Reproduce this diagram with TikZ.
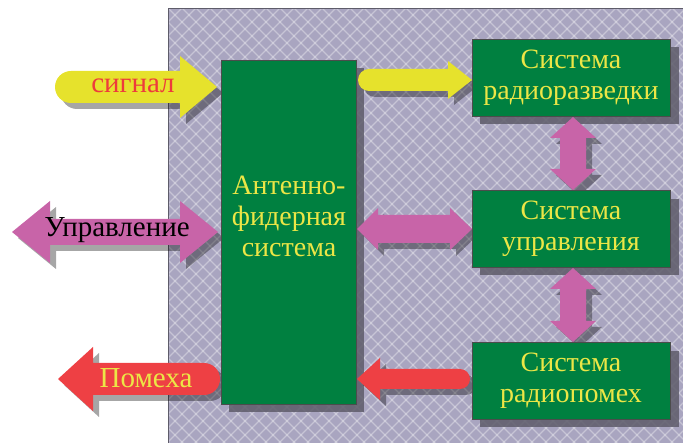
\documentclass[tikz,border=0pt]{standalone}
\usepackage{fontspec}
\setmainfont{Liberation Serif}
\newfontfamily\tnr{Liberation Serif}
\usetikzlibrary{calc}
\definecolor{bgpat}{HTML}{A9A5C0}
\definecolor{boxgreen}{HTML}{008040}
\definecolor{ayellow}{HTML}{E6E22C}
\definecolor{apink}{HTML}{C864A8}
\definecolor{ared}{HTML}{EE4044}
\definecolor{tyellow}{HTML}{ECE646}
\definecolor{tred}{HTML}{EE3B3B}
\definecolor{shadowc}{HTML}{5E5C6A}
\tikzset{
  boxtext/.style={text=tyellow, align=center, font=\tnr\fontsize{28}{31}\selectfont, inner sep=0pt},
  sysbox/.style={boxtext, draw=black!70, line width=0.8pt, fill=boxgreen,
     minimum width=198pt, minimum height=77pt},
  boxshadow/.style={fill=shadowc, opacity=0.85},
  arrshadow/.style={fill=black, opacity=0.35},
  lbl/.style={font=\tnr\fontsize{29}{31}\selectfont, inner sep=0pt}
}
\begin{document}
\begin{tikzpicture}[x=1pt,y=-1pt]
\useasboundingbox (0,0) rectangle (683,443);
% patterned background
\fill[bgpat] (168,8) rectangle (684,444);
\begin{scope}
\clip (168,8) rectangle (684,444);
\foreach \k in {0,...,80}{
  \draw[white,opacity=0.35,line width=1.4pt] ({168+\k*14},8) -- ({168+\k*14-440},448);
  \draw[white,opacity=0.35,line width=1.4pt] ({168+\k*14-560},8) -- ({168+\k*14-120},448);
}
\end{scope}
\draw[shadowc,line width=0.8pt] (168,444) -- (168,8) -- (684,8);

% shadows of boxes
\fill[boxshadow] (229,68) rectangle (364,412);
\fill[boxshadow] (480,47) rectangle (679,124);
\fill[boxshadow] (480,199) rectangle (679,275);
\fill[boxshadow] (480,351) rectangle (679,427);

% arrow shadows
\begin{scope}[shift={(6,6)}]
\fill[arrshadow] (71,71) -- (180,71) -- (180,56) -- (217,87) -- (180,118) -- (180,103) -- (71,103) arc[start angle=90,end angle=270,radius=16] -- cycle;
\fill[arrshadow] (369,69) -- (448,69) -- (448,61) -- (472,80) -- (448,99) -- (448,91) -- (369,91) arc[start angle=90,end angle=270,radius=11] -- cycle;
\fill[arrshadow] (12,232) -- (50,201) -- (50,219) -- (180,219) -- (180,201) -- (218,232) -- (180,263) -- (180,245) -- (50,245) -- (50,263) -- cycle;
\fill[arrshadow] (357,229) -- (378,208) -- (378,215) -- (450,215) -- (450,208) -- (472,229) -- (450,250) -- (450,243) -- (378,243) -- (378,250) -- cycle;
\fill[arrshadow] (573,117) -- (596,138) -- (586,138) -- (586,169) -- (596,169) -- (573,190) -- (550,169) -- (560,169) -- (560,138) -- (550,138) -- cycle;
\fill[arrshadow] (573,268) -- (596,289) -- (586,289) -- (586,321) -- (596,321) -- (573,342) -- (550,321) -- (560,321) -- (560,289) -- (550,289) -- cycle;
\fill[arrshadow] (357,379) -- (380,358) -- (380,369) -- (460,369) arc[start angle=-90,end angle=90,radius=10] -- (380,389) -- (380,400) -- cycle;
\fill[arrshadow] (58,379) -- (93,347) -- (93,363) -- (204,363) arc[start angle=-90,end angle=90,radius=16] -- (93,395) -- (93,411) -- cycle;
\end{scope}

% boxes
\node[sysbox, minimum width=135pt, minimum height=344pt] (ant) at (288.5,232) {};
\node[boxtext] (anttext) at (289,216) {Антенно-\\фидерная\\система};
\node[sysbox] (razv) at (571,77.5) {Система\\радиоразведки};
\node[sysbox] (upr) at (571,229) {Система\\управления};
\node[sysbox] (pom) at (571,381) {Система\\радиопомех};

% arrows
\fill[ayellow] (71,71) -- (180,71) -- (180,56) -- (217,87) -- (180,118) -- (180,103) -- (71,103) arc[start angle=90,end angle=270,radius=16] -- cycle;
\fill[ayellow] (369,69) -- (448,69) -- (448,61) -- (472,80) -- (448,99) -- (448,91) -- (369,91) arc[start angle=90,end angle=270,radius=11] -- cycle;
\fill[apink] (12,232) -- (50,201) -- (50,219) -- (180,219) -- (180,201) -- (218,232) -- (180,263) -- (180,245) -- (50,245) -- (50,263) -- cycle;
\fill[apink] (357,229) -- (378,208) -- (378,215) -- (450,215) -- (450,208) -- (472,229) -- (450,250) -- (450,243) -- (378,243) -- (378,250) -- cycle;
\fill[apink] (573,117) -- (596,138) -- (586,138) -- (586,169) -- (596,169) -- (573,190) -- (550,169) -- (560,169) -- (560,138) -- (550,138) -- cycle;
\fill[apink] (573,268) -- (596,289) -- (586,289) -- (586,321) -- (596,321) -- (573,342) -- (550,321) -- (560,321) -- (560,289) -- (550,289) -- cycle;
\fill[ared] (357,379) -- (380,358) -- (380,369) -- (460,369) arc[start angle=-90,end angle=90,radius=10] -- (380,389) -- (380,400) -- cycle;
\fill[ared] (58,379) -- (93,347) -- (93,363) -- (204,363) arc[start angle=-90,end angle=90,radius=16] -- (93,395) -- (93,411) -- cycle;

% labels
\node[lbl, text=tred] (sig) at (133,86) {сигнал};
\node[lbl, text=black] (uprl) at (117,230) {Управление};
\node[lbl, text=tyellow] (pomh) at (146,378) {Помеха};
\end{tikzpicture}
\end{document}
